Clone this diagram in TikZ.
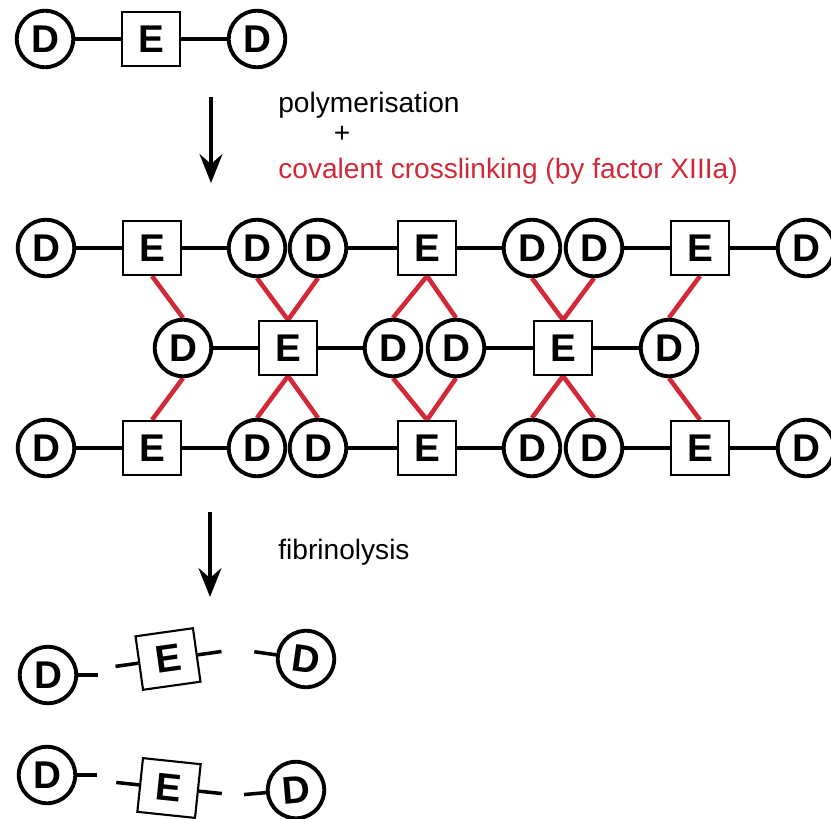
\documentclass[tikz,border=0pt]{standalone}
\usepackage{fontspec}
\setmainfont{Liberation Sans}
\usetikzlibrary{arrows.meta,backgrounds}
\definecolor{fibred}{RGB}{210,40,55}
\begin{document}
\begin{tikzpicture}[
  x=0.02cm, y=0.02cm,
  fibD/.style = {draw, circle, line width=2.2pt, fill=white, minimum size=1.13cm,
    inner sep=0pt, font=\fontsize{22}{22}\selectfont\bfseries},
  fibE/.style = {draw, rectangle, line width=1.2pt, fill=white, minimum width=1.16cm,
    minimum height=1.08cm, inner sep=0pt, font=\fontsize{22}{22}\selectfont\bfseries},
  fibbond/.style = {line width=2pt},
  fibxlink/.style = {line width=2.6pt, fibred},
  fibarr/.style = {-{Stealth[length=0.58cm, width=0.46cm, inset=0.2cm]}, line width=1.8pt},
  fiblbl/.style = {font=\fontsize{16}{19}\selectfont, inner sep=0pt, anchor=base west}
]
  \useasboundingbox (0,0) rectangle (831,-818);
  % 单体
  \node[fibD] (monoL) at (45,-39) {D};
  \node[fibE] (monoE) at (151,-39) {E};
  \node[fibD] (monoR) at (257,-39) {D};
  \draw[fibbond] (monoL) -- (monoE) -- (monoR);
  % 箭头 + 说明
  \coordinate (arrAs) at (211,-97);
  \coordinate (arrAe) at (211,-183);
  \draw[fibarr] (arrAs) -- (arrAe);
  \node[fiblbl] (poly) at (278,-112) {polymerisation};
  \node[font=\fontsize{16}{19}\selectfont, inner sep=0pt] (plus) at (342,-134) {+};
  \node[fiblbl, text=fibred] (xlink) at (278,-178) {covalent crosslinking (by factor XIIIa)};
  % 上排
  \node[fibD] (t1) at (46,-248) {D};
  \node[fibE] (t2) at (152,-248) {E};
  \node[fibD] (t3) at (257,-248) {D};
  \node[fibD] (t4) at (318,-248) {D};
  \node[fibE] (t5) at (427,-248) {E};
  \node[fibD] (t6) at (532,-248) {D};
  \node[fibD] (t7) at (594,-248) {D};
  \node[fibE] (t8) at (700,-248) {E};
  \node[fibD] (t9) at (806,-248) {D};
  \draw[fibbond] (t1) -- (t2) -- (t3) (t4) -- (t5) -- (t6) (t7) -- (t8) -- (t9);
  % 中排
  \node[fibD] (m1) at (183,-348) {D};
  \node[fibE] (m2) at (288,-348) {E};
  \node[fibD] (m3) at (393,-348) {D};
  \node[fibD] (m4) at (456,-348) {D};
  \node[fibE] (m5) at (563,-348) {E};
  \node[fibD] (m6) at (669,-348) {D};
  \draw[fibbond] (m1) -- (m2) -- (m3) (m4) -- (m5) -- (m6);
  % 下排
  \node[fibD] (b1) at (46,-448) {D};
  \node[fibE] (b2) at (152,-448) {E};
  \node[fibD] (b3) at (257,-448) {D};
  \node[fibD] (b4) at (318,-448) {D};
  \node[fibE] (b5) at (427,-448) {E};
  \node[fibD] (b6) at (532,-448) {D};
  \node[fibD] (b7) at (594,-448) {D};
  \node[fibE] (b8) at (700,-448) {E};
  \node[fibD] (b9) at (806,-448) {D};
  \draw[fibbond] (b1) -- (b2) -- (b3) (b4) -- (b5) -- (b6) (b7) -- (b8) -- (b9);
  % 交联
  \begin{pgfonlayer}{background}
    \draw[fibxlink] (t2.south) -- (m1.north);
    \draw[fibxlink] (t3.south) -- (m2.north);
    \draw[fibxlink] (t4.south) -- (m2.north);
    \draw[fibxlink] (t5.south) -- (m3.north);
    \draw[fibxlink] (t5.south) -- (m4.north);
    \draw[fibxlink] (t6.south) -- (m5.north);
    \draw[fibxlink] (t7.south) -- (m5.north);
    \draw[fibxlink] (t8.south) -- (m6.north);
    \draw[fibxlink] (m1.south) -- (b2.north);
    \draw[fibxlink] (m2.south) -- (b3.north);
    \draw[fibxlink] (m2.south) -- (b4.north);
    \draw[fibxlink] (m3.south) -- (b5.north);
    \draw[fibxlink] (m4.south) -- (b5.north);
    \draw[fibxlink] (m5.south) -- (b6.north);
    \draw[fibxlink] (m5.south) -- (b7.north);
    \draw[fibxlink] (m6.south) -- (b8.north);
  \end{pgfonlayer}
  % 箭头 + 纤溶
  \coordinate (arrBs) at (210,-512);
  \coordinate (arrBe) at (210,-597);
  \draw[fibarr] (arrBs) -- (arrBe);
  \node[fiblbl] (lysis) at (278,-559) {fibrinolysis};
  % 降解片段
  \node[fibD] (fa1) at (48,-675) {D};
  \node[fibE, rotate=8] (fa2) at (168,-659) {E};
  \node[fibD, rotate=-8] (fa3) at (306,-659) {D};
  \draw[fibbond] (fa1.east) -- ++(20,0);
  \draw[fibbond] (fa2.west) -- ++(188:23);
  \draw[fibbond] (fa2.east) -- ++(8:24);
  \draw[fibbond] (fa3.west) -- ++(172:22);
  \node[fibD] (fb1) at (47,-775) {D};
  \node[fibE, rotate=-6] (fb2) at (169,-788) {E};
  \node[fibD, rotate=5] (fb3) at (296,-790) {D};
  \draw[fibbond] (fb1.east) -- ++(20,0);
  \draw[fibbond] (fb2.west) -- ++(174:23);
  \draw[fibbond] (fb2.east) -- ++(-6:23);
  \draw[fibbond] (fb3.west) -- ++(185:22);
\end{tikzpicture}
\end{document}
